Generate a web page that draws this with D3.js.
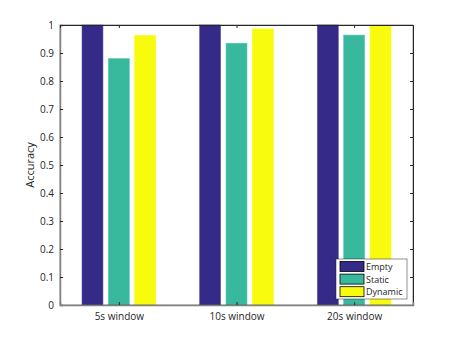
<!DOCTYPE html>
<html><head><meta charset="utf-8">
<script src="https://cdn.jsdelivr.net/npm/d3@7"></script>
<style>body{margin:0;background:#fff;} text{font-family:"Open Sans","Noto Sans",sans-serif;}</style>
</head><body><svg id="c" width="456" height="343"></svg>
<script>
const categories = ["5s window", "10s window", "20s window"];
const seriesNames = ["Empty", "Static", "Dynamic"];
const emptyVals = [1.0, 1.0, 1.0];
const staticVals = [0.88, 0.935, 0.964];
const dynamicVals = [0.962, 0.986, 0.999];
const yTicks = [0, 0.1, 0.2, 0.3, 0.4, 0.5, 0.6, 0.7, 0.8, 0.9, 1];
const colors = ["#352a87", "#38b99e", "#f9fb0e"];
const edgeColors = ["#5a4fa8", "#5cc9b0", "#f9fb0e"];
const series = [emptyVals, staticVals, dynamicVals];

const L = 60, R = 413, T = 25, B = 305;
const svg = d3.select("#c");
const x = d3.scaleLinear().domain([0.5, 3.5]).range([L, R]);
const y = d3.scaleLinear().domain([0, 1]).range([B, T]);
const off = 0.224, bw = 0.178;

series.forEach((vals, si) => {
  svg.selectAll(null).data(vals).enter().append("rect")
    .attr("x", (d, i) => x(i + 1 + (si - 1) * off - bw / 2))
    .attr("width", x(bw) - x(0))
    .attr("y", d => y(d))
    .attr("height", d => y(0) - y(d))
    .attr("fill", colors[si])
    .attr("stroke", edgeColors[si]).attr("stroke-width", 0.6);
});

const ax = "#262626";
// box
svg.append("rect").attr("x", L).attr("y", T).attr("width", R - L).attr("height", B - T)
  .attr("fill", "none").attr("stroke", "#262626").attr("stroke-width", 0.5);
// y axis
const ya = svg.append("g").attr("transform", `translate(${L},0)`)
  .call(d3.axisLeft(y).tickValues(yTicks).tickFormat(d => d3.format("")(+d.toFixed(1))).tickSize(-3).tickPadding(6));
ya.select(".domain").attr("stroke", ax);
const yr = svg.append("g").attr("transform", `translate(${R},0)`)
  .call(d3.axisRight(y).tickValues(yTicks).tickFormat("").tickSize(-3));
yr.select(".domain").attr("stroke", ax);
// x axis
const xa = svg.append("g").attr("transform", `translate(0,${B})`)
  .call(d3.axisBottom(x).tickValues([1, 2, 3]).tickFormat((d, i) => categories[i]).tickSize(-3).tickPadding(8));
xa.select(".domain").attr("stroke", "#808080").attr("stroke-width", 1.5);
const xt = svg.append("g").attr("transform", `translate(0,${T})`)
  .call(d3.axisTop(x).tickValues([1, 2, 3]).tickFormat("").tickSize(-3));
xt.select(".domain").attr("stroke", ax);
svg.selectAll(".tick line").attr("stroke", ax);
svg.selectAll(".tick text").attr("fill", ax).attr("font-size", 10)
  .attr("font-family", "'Open Sans','Noto Sans',sans-serif");
ya.select(".domain").attr("stroke", "#808080").attr("stroke-width", 1.5);

svg.append("text").attr("transform", `translate(34,${(T + B) / 2}) rotate(-90)`)
  .attr("text-anchor", "middle").attr("font-size", 11).attr("fill", ax).text("Accuracy");

// legend
const lg = svg.append("g");
lg.append("rect").attr("x", 336).attr("y", 259).attr("width", 71).attr("height", 40)
  .attr("fill", "#fff").attr("stroke", "#262626").attr("stroke-width", 0.5);
seriesNames.forEach((n, i) => {
  const yy = 261.5 + i * 12.6;
  lg.append("rect").attr("x", 340).attr("y", yy).attr("width", 24).attr("height", 10)
    .attr("fill", colors[i]).attr("stroke", "#000").attr("stroke-width", 0.8);
  lg.append("text").attr("x", 366).attr("y", yy + 8.5).attr("font-size", 9).attr("fill", ax).text(n);
});
</script></body></html>
